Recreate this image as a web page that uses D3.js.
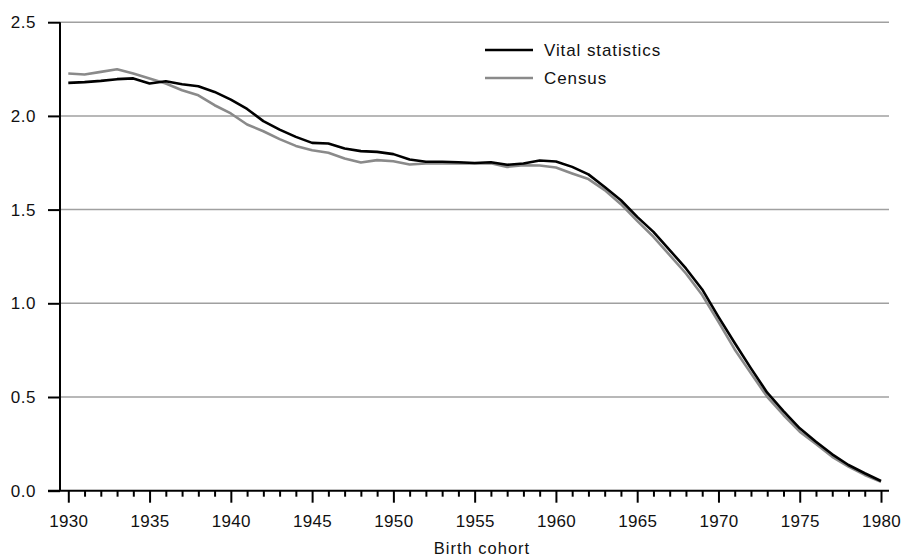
<!DOCTYPE html>
<html>
<head>
<meta charset="utf-8">
<script src="https://cdn.jsdelivr.net/npm/d3@7"></script>
<style>
html,body{margin:0;padding:0;background:#fff;}
text{font-family:"Liberation Sans",Arial,Helvetica,sans-serif;}
</style>
</head>
<body>
<svg id="chart" width="904" height="558"></svg>
<script>
const years = d3.range(1930, 1981);
const vitalStatistics = [
  2.176, 2.180, 2.187, 2.196, 2.200, 2.173, 2.185, 2.169, 2.158, 2.128,
  2.087, 2.037, 1.972, 1.927, 1.888, 1.856, 1.853, 1.826, 1.812, 1.808,
  1.796, 1.767, 1.755, 1.755, 1.753, 1.749, 1.753, 1.739, 1.746, 1.762,
  1.757, 1.728, 1.688, 1.621, 1.550, 1.461, 1.381, 1.284, 1.186, 1.074,
  0.928, 0.788, 0.653, 0.523, 0.425, 0.333, 0.261, 0.194, 0.137, 0.093,
  0.052
];
const census = [
  2.226, 2.221, 2.235, 2.249, 2.226, 2.200, 2.173, 2.137, 2.110, 2.057,
  2.013, 1.954, 1.918, 1.876, 1.840, 1.817, 1.803, 1.773, 1.751, 1.764,
  1.758, 1.741, 1.746, 1.746, 1.748, 1.746, 1.748, 1.728, 1.737, 1.735,
  1.725, 1.693, 1.663, 1.604, 1.529, 1.440, 1.355, 1.257, 1.159, 1.044,
  0.901, 0.754, 0.626, 0.501, 0.404, 0.315, 0.249, 0.181, 0.128, 0.084,
  0.048
];
const yTicks = [0.0, 0.5, 1.0, 1.5, 2.0, 2.5];
const xLabelTicks = [1930, 1935, 1940, 1945, 1950, 1955, 1960, 1965, 1970, 1975, 1980];
const seriesNames = ["Vital statistics", "Census"];
const xTitle = "Birth cohort";

const svg = d3.select("#chart");
const x = d3.scaleLinear().domain([1930, 1980]).range([68.3, 881]);
const y = d3.scaleLinear().domain([0, 2.5]).range([490.7, 22.2]);
const axisX0 = 60, axisX1 = 889;

// gridlines
svg.append("g").selectAll("line").data(yTicks.filter(d => d > 0)).join("line")
  .attr("x1", axisX0).attr("x2", axisX1)
  .attr("y1", d => y(d)).attr("y2", d => y(d))
  .attr("stroke", "#a0a0a0").attr("stroke-width", 1.5);

// y axis
const yAxis = svg.append("g").attr("transform", `translate(${axisX0},0)`)
  .call(d3.axisLeft(y).tickValues(yTicks).tickFormat(d3.format(".1f")).tickSize(12).tickPadding(12));
yAxis.select(".domain").attr("stroke", "#000").attr("stroke-width", 2).attr("d", `M0,${y(2.5)}V${y(0)}`);
yAxis.selectAll(".tick line").attr("stroke", "#000").attr("stroke-width", 2);
yAxis.selectAll(".tick text").attr("font-size", 17).attr("fill", "#111")
  .attr("font-family", "Liberation Sans, Arial, sans-serif").attr("letter-spacing", 0.5);

// x axis minor ticks
const xAxisMinor = svg.append("g").attr("transform", `translate(0,${y(0)})`)
  .call(d3.axisBottom(x).tickValues(years.filter(v => v % 5 !== 0)).tickSize(6).tickFormat(""));
xAxisMinor.select(".domain").remove();
xAxisMinor.selectAll(".tick line").attr("stroke", "#000").attr("stroke-width", 2);

// x axis major ticks with labels
const xAxis = svg.append("g").attr("transform", `translate(0,${y(0)})`)
  .call(d3.axisBottom(x).tickValues(xLabelTicks).tickFormat(d3.format("d")).tickSize(12).tickPadding(12));
xAxis.select(".domain").attr("stroke", "#000").attr("stroke-width", 2).attr("d", `M48,0H${axisX1}`);
xAxis.selectAll(".tick line").attr("stroke", "#000").attr("stroke-width", 2);
xAxis.selectAll(".tick text").attr("font-size", 17).attr("fill", "#111")
  .attr("font-family", "Liberation Sans, Arial, sans-serif").attr("letter-spacing", 0.3);

// x title
svg.append("text").attr("x", 482).attr("y", 554).attr("text-anchor", "middle")
  .attr("font-size", 16.5).attr("fill", "#111").attr("letter-spacing", 1).text(xTitle);

// lines
const line = d3.line().x((d, i) => x(years[i])).y(d => y(d));
svg.append("path").datum(census).attr("d", line)
  .attr("fill", "none").attr("stroke", "#8a8a8a").attr("stroke-width", 2.6).attr("stroke-linejoin", "round");
svg.append("path").datum(vitalStatistics).attr("d", line)
  .attr("fill", "none").attr("stroke", "#000").attr("stroke-width", 2.6).attr("stroke-linejoin", "round");

// legend
const legendColors = ["#000", "#8a8a8a"];
const leg = svg.append("g");
seriesNames.forEach((name, i) => {
  const ly = 50 + i * 28;
  leg.append("line").attr("x1", 485).attr("x2", 533).attr("y1", ly).attr("y2", ly)
    .attr("stroke", legendColors[i]).attr("stroke-width", 2.6);
  leg.append("text").attr("x", 544).attr("y", ly).attr("dy", "0.36em")
    .attr("font-size", 17).attr("fill", "#111").attr("letter-spacing", 0.9).text(name);
});
</script>
</body>
</html>
